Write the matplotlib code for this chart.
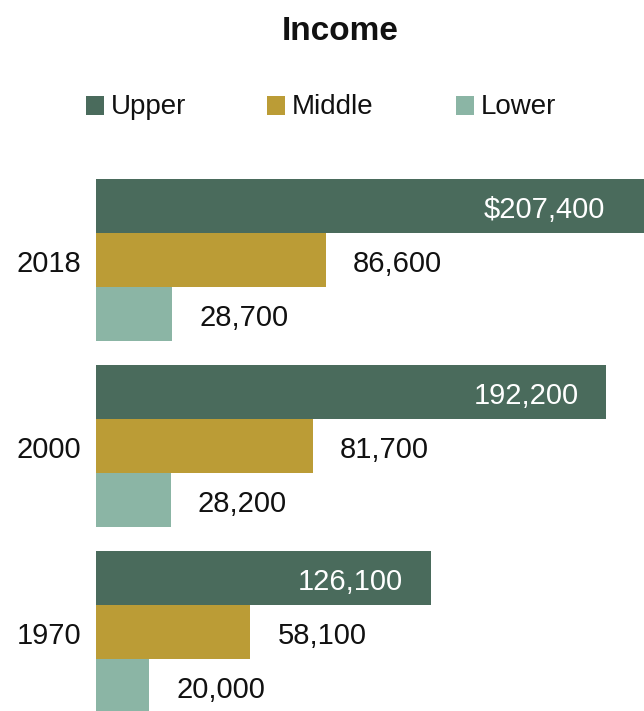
import matplotlib
matplotlib.use("Agg")
import matplotlib.pyplot as plt
from matplotlib.patches import Rectangle
from matplotlib import transforms

plt.rcParams['font.family'] = ['Liberation Sans', 'DejaVu Sans']

years = ["1970", "2000", "2018"]
series = ["Upper", "Middle", "Lower"]
upper = [126100, 192200, 207400]
middle = [58100, 81700, 86600]
lower = [20000, 28200, 28700]
colors = ["#4a6b5c", "#bb9c36", "#8bb5a5"]

W, H = 644, 711
fig = plt.figure(figsize=(W / 100, H / 100), dpi=100)
ax = fig.add_axes([96 / W, 0, 1 - 96 / W, (711 - 179) / H])

spacing = 186 / 54
h = 1.0
values = [upper, middle, lower]
offsets = [1, 0, -1]
xmax = 548 / 0.002656
ax.set_xlim(0, xmax)
ax.set_ylim(-1.5 + 2 / 54, 2 * spacing + 1.5)

dy = -4 / 100  # shift text down a bit (inches)

for si, (vals, off, col) in enumerate(zip(values, offsets, colors)):
    ys = [k * spacing + off for k in range(len(years))]
    ax.barh(ys, vals, height=h, color=col, linewidth=0)
    for k, (y, v) in enumerate(zip(ys, vals)):
        txt = f"{v:,}"
        if si == 0 and k == len(years) - 1:
            txt = "$" + txt
        if si == 0:
            xe = min(v, xmax)
            dx = -28 if v <= xmax else -39
            tr = ax.transData + transforms.ScaledTranslation(dx / 100, dy, fig.dpi_scale_trans)
            ax.text(xe, y, txt, ha='right', va='center', color='white',
                    fontsize=21, transform=tr)
        else:
            tr = ax.transData + transforms.ScaledTranslation(27 / 100, dy, fig.dpi_scale_trans)
            ax.text(v, y, txt, ha='left', va='center', color='#111111',
                    fontsize=21, transform=tr)

ax.set_yticks([])
ax.set_xticks([])
ytr = transforms.blended_transform_factory(ax.transAxes, ax.transData) + \
    transforms.ScaledTranslation(-15 / 100, dy, fig.dpi_scale_trans)
for k, yr in enumerate(years):
    ax.text(0, k * spacing, yr, ha='right', va='center', fontsize=21,
            color='#111111', transform=ytr)
for s in ax.spines.values():
    s.set_visible(False)

fig.text(340 / W, 1 - 32 / H, "Income", ha='center', va='center',
         fontsize=24, fontweight='bold', color='#111111')

leg_x = [86, 267, 456]
for name, col, lx in zip(series, colors, leg_x):
    fig.add_artist(Rectangle((lx / W, 1 - 115 / H), 18 / W, 19 / H,
                             transform=fig.transFigure, color=col, linewidth=0))
    fig.text((lx + 25) / W, 1 - 107 / H, name, ha='left', va='center',
             fontsize=20, color='#111111')

fig.savefig("out.png", dpi=100)
